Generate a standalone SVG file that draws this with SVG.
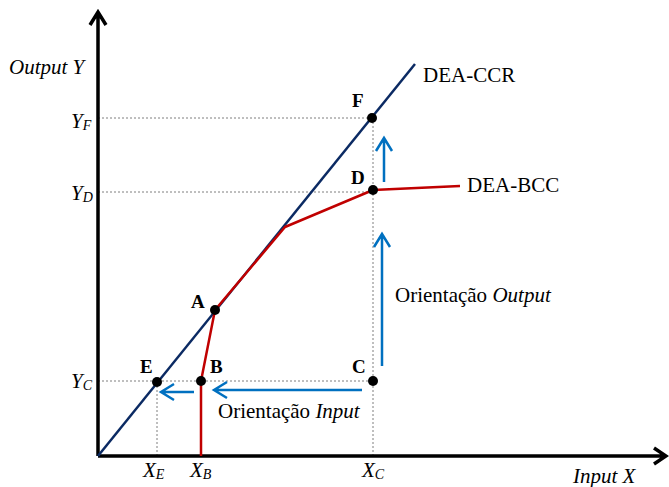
<svg xmlns="http://www.w3.org/2000/svg" width="669" height="487" viewBox="0 0 669 487">
<style>
.t{font-family:"Liberation Serif","Times New Roman",serif;fill:#000}
.i{font-style:italic}
.b{font-weight:bold;font-size:19px}
.dot{stroke:#7f7f7f;stroke-width:1;stroke-dasharray:2,2;fill:none}
.blue{stroke:#0070c0;stroke-width:2.5;fill:none}
</style>
<rect width="669" height="487" fill="#fff"/>
<g id="guides">
<path class="dot" d="M98 118H372M98 192H373M98 381H373M373 118V456M157 382V456"/>
</g>
<g id="axes" stroke="#000" stroke-width="3.5" fill="none">
<path d="M98 456V12M90 25L98 12L106 25"/>
<path d="M98 456H666M654 448L666 456L654 464"/>
</g>
<g id="connectors">
<path d="M98 456L415 64" stroke="#0b2a63" stroke-width="2.5" fill="none"/>
<path d="M201 456V381L215 310L285 227L373 190L460 186" stroke="#c00000" stroke-width="2.5" fill="none" stroke-linejoin="round"/>
<path class="blue" d="M362 390H214M227 382L214 390L227 398"/>
<path class="blue" d="M194 392H161M174 384L161 392L174 400"/>
<path class="blue" d="M382 366V234M374 247L382 234L390 247"/>
<path class="blue" d="M384 182V138M376 151L384 138L392 151"/>
</g>
<g id="F"><circle cx="372" cy="118" r="5"/><text class="t b" x="352" y="107">F</text></g>
<g id="D"><circle cx="373" cy="190" r="5"/><text class="t b" x="351" y="184">D</text></g>
<g id="A"><circle cx="215" cy="310" r="5"/><text class="t b" x="191" y="308">A</text></g>
<g id="B"><circle cx="201" cy="381" r="5"/><text class="t b" x="210" y="373">B</text></g>
<g id="C"><circle cx="373" cy="381" r="5"/><text class="t b" x="352" y="373">C</text></g>
<g id="E"><circle cx="157" cy="382" r="5"/><text class="t b" x="140" y="373">E</text></g>
<g id="labels">
<text class="t i" x="9" y="74" font-size="21">Output Y</text>
<text class="t i" x="573" y="483" font-size="21">Input X</text>
<text class="t i" x="71" y="128" font-size="21">Y<tspan font-size="14" dy="2">F</tspan></text>
<text class="t i" x="71" y="200" font-size="21">Y<tspan font-size="14" dy="2">D</tspan></text>
<text class="t i" x="71" y="388" font-size="21">Y<tspan font-size="14" dy="2">C</tspan></text>
<text class="t i" x="143" y="477" font-size="21">X<tspan font-size="14" dy="2">E</tspan></text>
<text class="t i" x="190" y="477" font-size="21">X<tspan font-size="14" dy="2">B</tspan></text>
<text class="t i" x="362" y="477" font-size="21">X<tspan font-size="14" dy="2">C</tspan></text>
<text class="t" x="423" y="82" font-size="21">DEA-CCR</text>
<text class="t" x="467" y="192" font-size="21">DEA-BCC</text>
<text class="t" x="395" y="302" font-size="21">Orientação <tspan font-style="italic">Output</tspan></text>
<text class="t" x="218" y="418" font-size="21">Orientação <tspan font-style="italic">Input</tspan></text>
</g>
</svg>
